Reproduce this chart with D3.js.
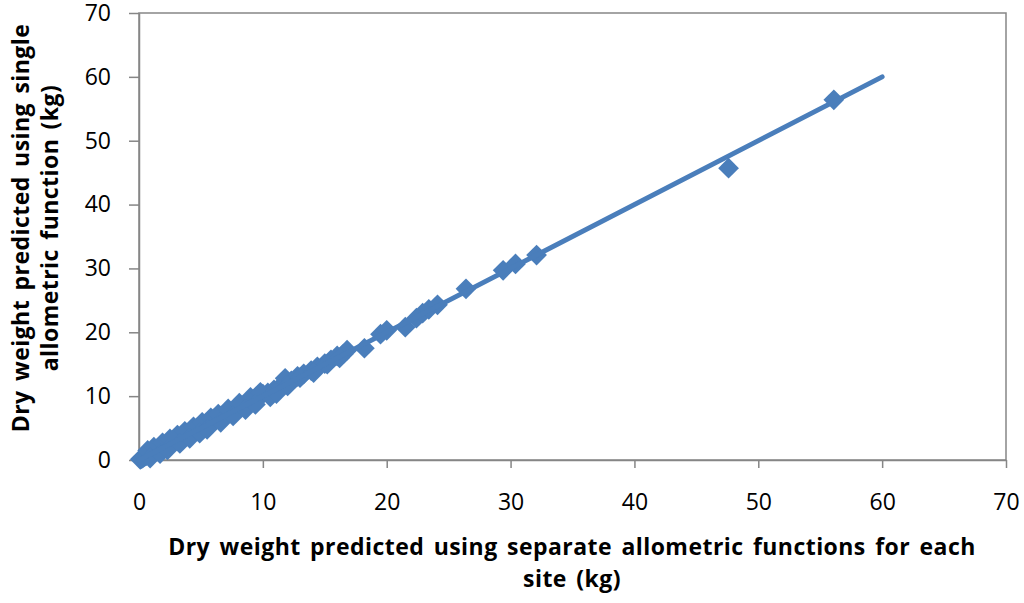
<!DOCTYPE html>
<html>
<head>
<meta charset="utf-8">
<script src="https://cdn.jsdelivr.net/npm/d3@7"></script>
<style>
  body { margin: 0; background: #fff; }
  svg { display: block; }
  .tick text { font-family: "Open Sans", sans-serif; font-size: 23px; fill: #000; }
  .title { font-family: "Open Sans", sans-serif; font-size: 23px; font-weight: bold; fill: #000;
           letter-spacing: 0.45px; word-spacing: 3px; }
</style>
</head>
<body>
<svg id="chart" width="1024" height="603"></svg>
<script>
// separate functions per site (x) vs single function (y), kg
const separate = [
  0.1, 0.2, 0.3, 0.4, 0.5, 0.6, 0.8, 1.0, 1.1, 1.3, 1.5, 1.6, 1.8, 2.0,
  2.2, 2.4, 2.6, 2.8, 3.0, 3.2, 3.4, 3.6, 3.8, 4.0, 4.3, 4.5, 4.8, 5.0,
  5.3, 5.6, 5.9, 6.2, 6.5, 6.8, 7.1, 7.4, 7.7, 8.0, 8.4, 8.8, 9.2, 9.6,
  10.0, 10.4, 10.9, 11.4, 11.8, 12.3, 12.8, 13.3, 13.9, 14.4, 15.0, 15.5,
  16.0, 16.5, 16.8, 18.2, 19.5, 20.0, 21.5, 22.4, 22.9, 23.4, 24.1, 26.4,
  29.4, 30.4, 32.1, 47.6, 56.1,
  0.7, 1.2, 1.9, 2.5, 3.1, 3.7, 4.4, 5.1, 5.8, 6.4, 7.2, 8.1, 9.0, 9.8,
  0.9, 1.7, 2.3, 3.3, 4.1, 4.9, 5.5, 6.6, 7.6, 8.6, 9.4, 10.6, 11.1,
  12.0, 13.0, 14.1, 15.2, 16.2
];
const single = [
  0.1, 0.2, 0.3, 0.5, 0.6, 0.7, 0.9, 1.1, 1.2, 1.4, 1.6, 1.7, 1.9, 2.1,
  2.3, 2.5, 2.7, 2.9, 3.1, 3.3, 3.5, 3.8, 3.9, 4.1, 4.4, 4.6, 4.9, 5.1,
  5.4, 5.6, 6.0, 6.3, 6.5, 6.9, 7.2, 7.4, 7.8, 8.1, 8.5, 8.9, 9.4, 10.1,
  10.3, 10.5, 11.0, 11.5, 12.8, 12.4, 13.1, 13.5, 14.0, 14.6, 15.1, 15.7,
  16.3, 16.6, 17.2, 17.5, 19.7, 20.3, 20.8, 22.2, 23.0, 23.6, 24.3, 26.8,
  29.7, 30.7, 32.1, 45.7, 56.4,
  1.5, 2.0, 2.7, 3.3, 3.9, 4.5, 5.2, 5.9, 6.6, 7.2, 8.0, 8.9, 9.8, 10.6,
  0.3, 1.0, 1.6, 2.6, 3.4, 4.2, 4.8, 5.9, 6.9, 7.9, 8.7, 9.9, 10.4,
  11.6, 12.9, 13.7, 15.0, 16.0
];
// fitted 1:1 line drawn through the cloud
const fitX = [0, 60];
const fitY = [0, 60];
const xTicks = [0, 10, 20, 30, 40, 50, 60, 70];
const yTicks = [0, 10, 20, 30, 40, 50, 60, 70];
const xTitle = ["Dry weight predicted using separate allometric functions for each", "site (kg)"];
const yTitle = ["Dry weight predicted using single", "allometric function (kg)"];

const svg = d3.select("#chart");
const margin = { left: 139, right: 18, top: 13, bottom: 143 };
const width = 1024, height = 603;
const blue = "#4a7ebb";
const grey = "#868686";

const x = d3.scaleLinear().domain([0, 70]).range([margin.left, width - margin.right]);
const y = d3.scaleLinear().domain([0, 70]).range([height - margin.bottom, margin.top]);

// plot frame
svg.append("rect")
  .attr("x", margin.left).attr("y", margin.top)
  .attr("width", width - margin.right - margin.left)
  .attr("height", height - margin.bottom - margin.top)
  .attr("fill", "none").attr("stroke", grey).attr("stroke-width", 1.5);

const xAxis = svg.append("g")
  .attr("transform", `translate(0, ${height - margin.bottom})`)
  .call(d3.axisBottom(x).tickValues(xTicks).tickSize(8).tickPadding(26).tickSizeOuter(0));
const yAxis = svg.append("g")
  .attr("transform", `translate(${margin.left}, 0)`)
  .call(d3.axisLeft(y).tickValues(yTicks).tickSize(10).tickPadding(18).tickSizeOuter(0));

[xAxis, yAxis].forEach((g) => {
  g.select(".domain").attr("stroke", grey).attr("stroke-width", 1.5);
  g.selectAll(".tick line").attr("stroke", grey).attr("stroke-width", 1.5);
});

// data
const points = separate.map((d, i) => ({ x: d, y: single[i] }));

svg.append("g")
  .selectAll("path")
  .data(points)
  .join("path")
  .attr("d", d3.symbol(d3.symbolSquare, 215))
  .attr("transform", (d) => `translate(${x(d.x)}, ${y(d.y)}) rotate(45)`)
  .attr("fill", blue);

const line = d3.line().x((d) => x(d[0])).y((d) => y(d[1]));
svg.append("path")
  .datum(fitX.map((d, i) => [d, fitY[i]]))
  .attr("d", line)
  .attr("fill", "none")
  .attr("stroke", blue)
  .attr("stroke-width", 5)
  .attr("stroke-linecap", "round");

// axis titles
svg.append("text").attr("class", "title")
  .attr("text-anchor", "middle")
  .selectAll("tspan")
  .data(xTitle)
  .join("tspan")
  .attr("x", 572)
  .attr("y", (d, i) => 555 + i * 32)
  .text((d) => d);

svg.append("text").attr("class", "title")
  .attr("text-anchor", "middle")
  .attr("transform", "translate(0, 228) rotate(-90)")
  .selectAll("tspan")
  .data(yTitle)
  .join("tspan")
  .attr("x", 0)
  .attr("y", (d, i) => 29 + i * 29)
  .text((d) => d);
</script>
</body>
</html>
